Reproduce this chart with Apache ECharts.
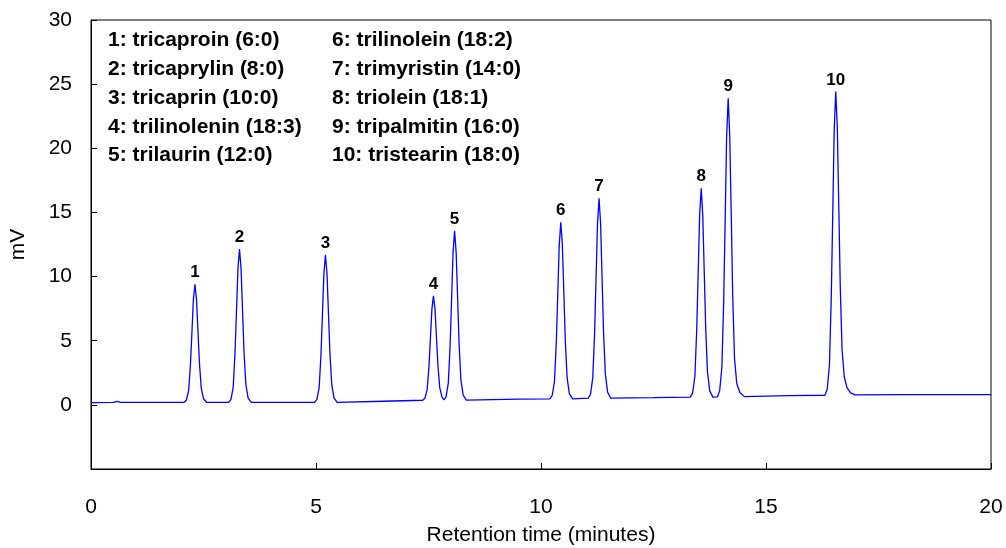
<!DOCTYPE html>
<html>
<head>
<meta charset="utf-8">
<script src="https://cdn.jsdelivr.net/npm/echarts@6/dist/echarts.min.js"></script>
<style>
html,body{margin:0;padding:0;background:#fff;}
#chart{width:1006px;height:548px;}
</style>
</head>
<body>
<div id="chart"></div>
<script>
// Retention time (minutes) and detector signal (mV)
const retentionTime = [
  0, 0.5, 0.58, 0.66, 1.5,
  2.07, 2.12, 2.17, 2.21, 2.24, 2.275, 2.31, 2.345, 2.38, 2.41, 2.45, 2.50, 2.57,
  2.8,
  3.06, 3.11, 3.16, 3.20, 3.23, 3.265, 3.30, 3.335, 3.37, 3.40, 3.44, 3.49, 3.56,
  4.5,
  4.97, 5.02, 5.07, 5.11, 5.14, 5.175, 5.21, 5.245, 5.28, 5.31, 5.35, 5.40, 5.47,
  6.5,
  7.37, 7.42, 7.47, 7.51, 7.54, 7.575, 7.61, 7.645, 7.68, 7.71, 7.75, 7.80,
  7.845,
  7.89, 7.94, 7.98, 8.01, 8.045, 8.08, 8.115, 8.15, 8.18, 8.22, 8.27, 8.34,
  9.5,
  10.20, 10.25, 10.30, 10.34, 10.37, 10.405, 10.44, 10.475, 10.51, 10.54, 10.58, 10.63, 10.70,
  11.05, 11.10, 11.15, 11.19, 11.22, 11.255, 11.29, 11.325, 11.36, 11.39, 11.43, 11.48, 11.55,
  12.5,
  13.32, 13.37, 13.42, 13.46, 13.49, 13.525, 13.56, 13.595, 13.63, 13.66, 13.70, 13.75, 13.82,
  13.92, 13.97, 14.02, 14.06, 14.09, 14.125, 14.16, 14.195, 14.23, 14.26, 14.30, 14.35, 14.42, 14.52,
  15.5,
  16.31, 16.36, 16.41, 16.45, 16.48, 16.515, 16.55, 16.585, 16.62, 16.65, 16.69, 16.74, 16.80, 16.88, 16.98,
  18, 20
];
const signal = [
  0.18, 0.19, 0.28, 0.20, 0.20,
  0.20, 0.38, 1.12, 3.14, 5.44, 8.20, 9.40, 8.20, 5.54, 3.24, 1.30, 0.48, 0.20,
  0.19,
  0.19, 0.43, 1.39, 4.02, 7.01, 10.60, 12.15, 10.60, 7.13, 4.14, 1.63, 0.55, 0.19,
  0.19,
  0.19, 0.42, 1.34, 3.87, 6.75, 10.20, 11.70, 10.20, 6.87, 3.99, 1.57, 0.54, 0.19,
  0.28,
  0.36, 0.52, 1.17, 2.96, 5.00, 7.44, 8.50, 7.44, 5.08, 3.05, 1.34, 0.60,
  0.38,
  0.63, 1.69, 4.59, 7.89, 11.85, 13.56, 11.85, 8.02, 4.72, 1.95, 0.77, 0.37,
  0.44,
  0.47, 0.75, 1.85, 4.88, 8.32, 12.45, 14.24, 12.45, 8.46, 5.01, 2.12, 0.88, 0.47,
  0.52, 0.83, 2.08, 5.51, 9.41, 14.08, 16.11, 14.08, 9.56, 5.66, 2.39, 0.99, 0.52,
  0.56,
  0.60, 0.93, 2.23, 5.81, 9.89, 14.77, 16.89, 14.77, 10.05, 5.98, 2.55, 1.09, 0.60,
  0.62, 1.09, 2.95, 8.07, 13.89, 20.87, 23.90, 20.87, 14.36, 8.54, 3.65, 1.67, 0.97, 0.64,
  0.72,
  0.75, 1.22, 3.12, 8.32, 14.24, 21.34, 24.42, 21.58, 14.95, 9.27, 4.30, 2.17, 1.34, 0.94, 0.78,
  0.79, 0.80
];

// Peak apexes and their labels
const peakTimes   = [2.31, 3.30, 5.21, 7.61, 8.08, 10.44, 11.29, 13.56, 14.16, 16.55];
const peakHeights = [9.40, 12.15, 11.70, 8.50, 13.56, 14.24, 16.11, 16.89, 23.90, 24.42];
const peakLabels  = ['1','2','3','4','5','6','7','8','9','10'];

// Compound key (two columns)
const compoundsCol1 = [
  '1: tricaproin (6:0)',
  '2: tricaprylin (8:0)',
  '3: tricaprin (10:0)',
  '4: trilinolenin (18:3)',
  '5: trilaurin (12:0)'
];
const compoundsCol2 = [
  '6: trilinolein (18:2)',
  '7: trimyristin (14:0)',
  '8: triolein (18:1)',
  '9: tripalmitin (16:0)',
  '10: tristearin (18:0)'
];

const xTicks = [0, 5, 10, 15, 20];
const yTicks = [0, 5, 10, 15, 20, 25, 30];

const FONT = '"Liberation Sans", Arial, Helvetica, sans-serif';

const lineData = retentionTime.map((t, i) => [t, signal[i]]);
const peakData = peakTimes.map((t, i) => ({ value: [t, peakHeights[i]], name: peakLabels[i] }));

const graphics = [];
const rowY0 = 42, rowStep = 28.8;
compoundsCol1.forEach((s, i) => graphics.push({
  type: 'text', left: 108, top: rowY0 + i * rowStep - 12,
  style: { text: s, font: 'bold 21px ' + FONT, fill: '#000' }
}));
compoundsCol2.forEach((s, i) => graphics.push({
  type: 'text', left: 332, top: rowY0 + i * rowStep - 12,
  style: { text: s, font: 'bold 21px ' + FONT, fill: '#000' }
}));

const chart = echarts.init(document.getElementById('chart'), null, { renderer: 'canvas' });
chart.setOption({
  animation: false,
  backgroundColor: '#fff',
  grid: { left: 91, top: 20, width: 900, height: 449, containLabel: false, outerBoundsMode: 'none',
    show: true, borderColor: '#000', borderWidth: 1, backgroundColor: 'transparent' },
  xAxis: {
    type: 'value', min: xTicks[0], max: xTicks[xTicks.length - 1], interval: 5,
    name: 'Retention time (minutes)', nameLocation: 'middle', nameGap: 56,
    nameTextStyle: { fontFamily: FONT, fontSize: 21, color: '#000' },
    axisLine: { show: true, onZero: false, lineStyle: { color: '#000', width: 1 } },
    axisTick: { show: true, inside: true, length: 6, lineStyle: { color: '#000' } },
    axisLabel: { fontFamily: FONT, fontSize: 21, color: '#000', margin: 28 },
    splitLine: { show: false }
  },
  yAxis: {
    type: 'value', min: -5, max: yTicks[yTicks.length - 1], interval: 5,
    name: 'mV', nameLocation: 'middle', nameGap: 62, nameRotate: 90,
    nameTextStyle: { fontFamily: FONT, fontSize: 21, color: '#000' },
    axisLine: { show: true, lineStyle: { color: '#000', width: 1 } },
    axisTick: { show: true, inside: true, length: 6, lineStyle: { color: '#000' } },
    axisLabel: { fontFamily: FONT, fontSize: 21, color: '#000', margin: 19,
      formatter: v => (yTicks.indexOf(v) >= 0 ? String(v) : '') },
    splitLine: { show: false }
  },
  graphic: graphics,
  series: [
    {
      type: 'line', data: lineData, showSymbol: false, symbol: 'none',
      lineStyle: { color: '#0000FF', width: 1.3 }, smooth: false, z: 2
    },
    {
      type: 'scatter', data: peakData, symbolSize: 0.1,
      itemStyle: { color: 'transparent' },
      label: { show: true, position: 'top', distance: 3, formatter: p => p.name,
        fontFamily: FONT, fontWeight: 'bold', fontSize: 17, color: '#000',
        textBorderWidth: 0, opacity: 1 },
      silent: true, z: 3
    }
  ]
});
</script>
</body>
</html>
